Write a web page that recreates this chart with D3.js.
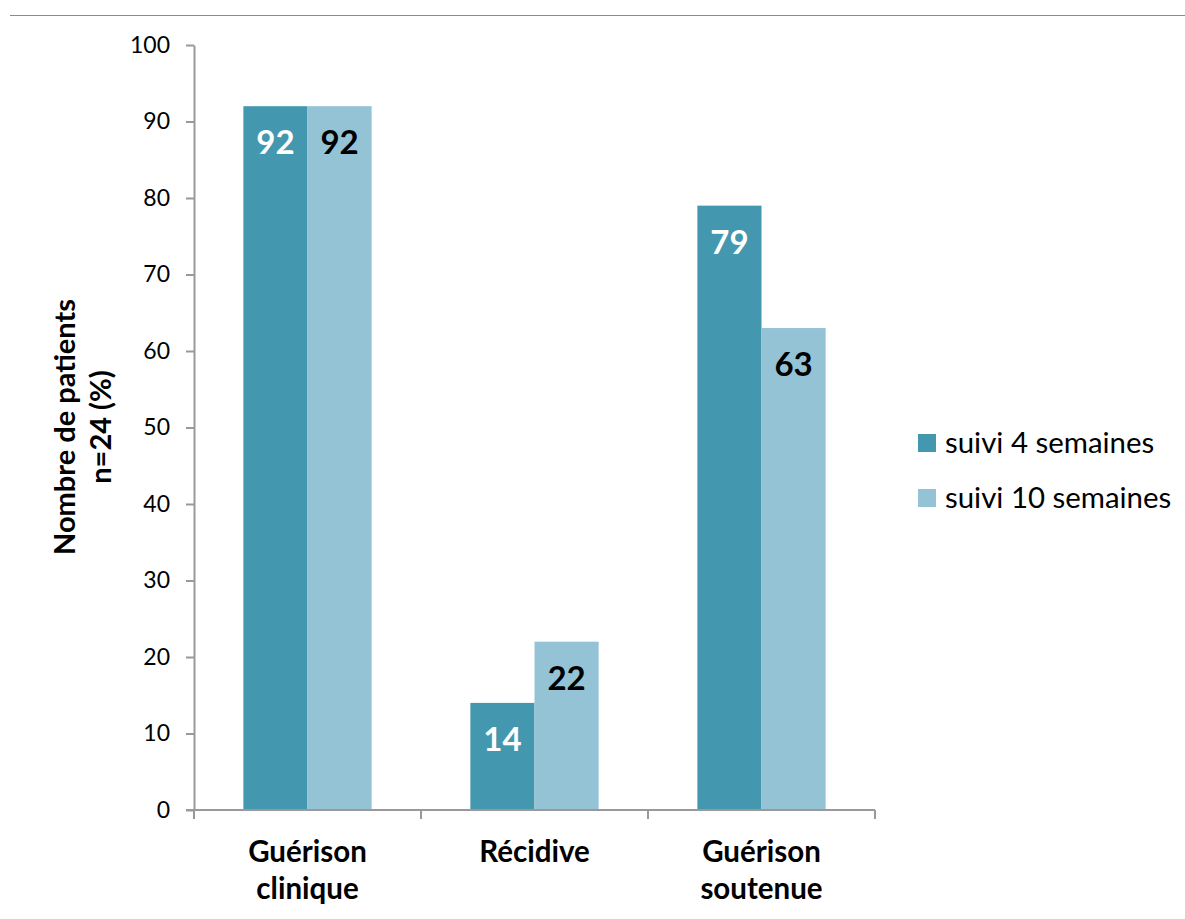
<!DOCTYPE html>
<html>
<head>
<meta charset="utf-8">
<script src="https://cdn.jsdelivr.net/npm/d3@7"></script>
<style>
  html, body { margin: 0; padding: 0; background: #fff; }
  svg { display: block; }
</style>
</head>
<body>
<svg id="chart" width="1185" height="919"></svg>
<script>
// Categories (two-line labels) and series
const categories = ["Guérison clinique", "Récidive", "Guérison soutenue"];
const categoryLines = [["Guérison", "clinique"], ["Récidive"], ["Guérison", "soutenue"]];
const seriesNames = ["suivi 4 semaines", "suivi 10 semaines"];
const week4 = [92, 14, 79];
const week10 = [92, 22, 63];
const yTicks = [0, 10, 20, 30, 40, 50, 60, 70, 80, 90, 100];
const yTitle = ["Nombre de patients", "n=24 (%)"];

const colors = ["#4398b0", "#93c3d4"];
const labelColors = ["#ffffff", "#000000"];
const font = "Lato, 'Open Sans', sans-serif";

const svg = d3.select("#chart");
const margin = { left: 194, right: 310, top: 45, bottom: 109 };
const W = 1185, H = 919;
const plotW = W - margin.left - margin.right;
const plotH = H - margin.top - margin.bottom;

// Header rule
svg.append("line")
  .attr("x1", 10).attr("x2", 1185)
  .attr("y1", 15.5).attr("y2", 15.5)
  .attr("stroke", "#1fb0ea").attr("stroke-width", 1);

const g = svg.append("g").attr("transform", `translate(${margin.left},${margin.top})`);

const x0 = d3.scaleBand().domain(categories).range([0, plotW]).paddingInner(0).paddingOuter(0);
const x1 = d3.scaleBand().domain(seriesNames).range([0, x0.bandwidth()]).paddingInner(0).paddingOuter(0.77);
const y = d3.scaleLinear().domain([0, 100]).range([plotH, 0]);

const rows = categories.map((c, i) => ({ cat: c, vals: [week4[i], week10[i]] }));

// Bars
const groups = g.selectAll("g.cat").data(rows).join("g")
  .attr("class", "cat")
  .attr("transform", d => `translate(${x0(d.cat)},0)`);

groups.selectAll("rect").data(d => d.vals.map((v, k) => ({ v, k })))
  .join("rect")
  .attr("x", d => x1(seriesNames[d.k]))
  .attr("width", x1.bandwidth())
  .attr("y", d => y(d.v))
  .attr("height", d => plotH - y(d.v))
  .attr("fill", d => colors[d.k]);

// Value labels inside the top of each bar
groups.selectAll("text.val").data(d => d.vals.map((v, k) => ({ v, k })))
  .join("text")
  .attr("class", "val")
  .attr("x", d => x1(seriesNames[d.k]) + x1.bandwidth() / 2)
  .attr("y", d => y(d.v) + 48)
  .attr("text-anchor", "middle")
  .attr("font-family", font)
  .attr("font-weight", "bold")
  .attr("font-size", 33)
  .attr("fill", d => labelColors[d.k])
  .text(d => d3.format(".0f")(d.v));

// Y axis
const yAxis = g.append("g")
  .call(d3.axisLeft(y).tickValues(yTicks).tickSize(8).tickPadding(16).tickSizeOuter(0));
yAxis.select(".domain").attr("stroke", "#999").attr("stroke-width", 2);
yAxis.selectAll(".tick line").attr("stroke", "#999").attr("stroke-width", 2);
yAxis.selectAll(".tick text")
  .attr("font-family", font).attr("font-size", 23).attr("fill", "#000");

// X axis with ticks at category boundaries
const xAxisG = g.append("g").attr("transform", `translate(0,${plotH})`);
xAxisG.append("line")
  .attr("x1", -8).attr("x2", plotW)
  .attr("stroke", "#999").attr("stroke-width", 2);
const boundaries = categories.map(c => x0(c)).concat([plotW]);
xAxisG.selectAll("line.tk").data(boundaries).join("line")
  .attr("class", "tk")
  .attr("x1", d => d).attr("x2", d => d)
  .attr("y1", 0).attr("y2", 9)
  .attr("stroke", "#999").attr("stroke-width", 2);

// Category labels
const catText = xAxisG.selectAll("text.cat").data(categoryLines).join("text")
  .attr("class", "cat")
  .attr("x", (d, i) => x0(categories[i]) + x0.bandwidth() / 2)
  .attr("y", 52)
  .attr("text-anchor", "middle")
  .attr("font-family", font)
  .attr("font-weight", "bold")
  .attr("font-size", 29.5)
  .attr("fill", "#000");
catText.selectAll("tspan").data(d => d).join("tspan")
  .attr("x", function () { return d3.select(this.parentNode).attr("x"); })
  .attr("dy", (d, j) => j === 0 ? 0 : 37)
  .text(d => d);

// Y axis title
svg.append("text")
  .attr("transform", "rotate(-90)")
  .attr("text-anchor", "middle")
  .attr("font-family", font)
  .attr("font-weight", "bold")
  .attr("font-size", 29)
  .attr("fill", "#000")
  .selectAll("tspan").data(yTitle).join("tspan")
  .attr("x", -427)
  .attr("y", (d, i) => 75 + i * 36)
  .text(d => d);

// Legend
const legend = svg.append("g").attr("transform", "translate(918,432)");
seriesNames.forEach((s, i) => {
  const row = legend.append("g").attr("transform", `translate(0,${i * 55})`);
  row.append("rect").attr("x", 0).attr("y", 2).attr("width", 18).attr("height", 18).attr("fill", colors[i]);
  row.append("text").attr("x", 27).attr("y", 21)
    .attr("font-family", font).attr("font-size", 29.4).attr("fill", "#000")
    .text(s);
});
</script>
</body>
</html>
